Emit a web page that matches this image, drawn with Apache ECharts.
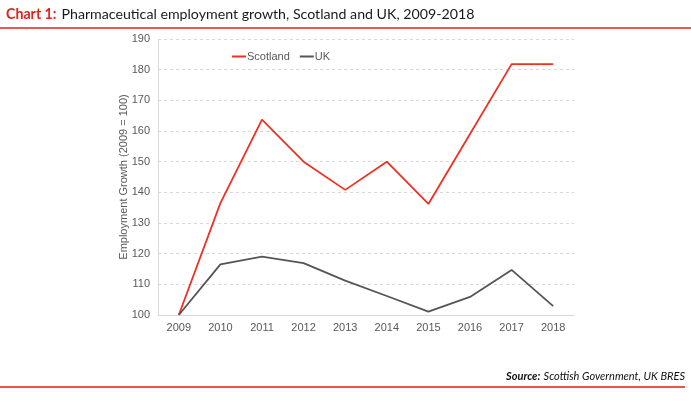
<!DOCTYPE html>
<html>
<head>
<meta charset="utf-8">
<script src="https://cdn.jsdelivr.net/npm/echarts@6/dist/echarts.min.js"></script>
<style>html,body{margin:0;padding:0;background:#fff;}#c{width:691px;height:402px;}</style>
</head>
<body>
<div id="c"></div>
<script>
var years = ['2009','2010','2011','2012','2013','2014','2015','2016','2017','2018'];
var scotland = [100, 136.5, 163.7, 150, 140.8, 150, 136.2, 159, 181.8, 181.8];
var uk = [100, 116.5, 119, 116.9, 111.2, 106.2, 101.1, 105.9, 114.7, 102.9];
var yTicks = {min: 100, max: 190, interval: 10};

var chart = echarts.init(document.getElementById('c'));
chart.setOption({
  animation: false,
  textStyle: {fontFamily: 'Liberation Sans, Arial, sans-serif'},
  title: {
    left: 1, top: 0,
    text: '{a|Chart 1:} {b|Pharmaceutical employment growth, Scotland and UK, 2009-2018}',
    textStyle: {
      fontWeight: 'normal',
      rich: {
        a: {fontFamily: 'Lato', fontSize: 14.2, fontWeight: 'bold', color: '#e2231a'},
        b: {fontFamily: 'Lato', fontSize: 14.2, fontWeight: 'normal', color: '#1a1a1a'}
      }
    }
  },
  graphic: [
    {type: 'line', shape: {x1: 0, y1: 28, x2: 691, y2: 28}, style: {stroke: '#e2231a', lineWidth: 1.5}},
    {type: 'line', shape: {x1: 0, y1: 387, x2: 685, y2: 387}, style: {stroke: '#e8564d', lineWidth: 2}},
    {type: 'text', right: 6, top: 370, style: {
      text: '{a|Source:} {b|Scottish Government, UK BRES}',
      rich: {
        a: {fontFamily: 'Lato', fontSize: 11, fontWeight: 'bold', fontStyle: 'italic', fill: '#111'},
        b: {fontFamily: 'Lato', fontSize: 11, fontStyle: 'italic', fill: '#111'}
      }
    }}
  ],
  legend: {
    left: 227, top: 46,
    itemWidth: 14, itemHeight: 2, itemGap: 10,
    icon: 'rect',
    textStyle: {fontSize: 11, color: '#595959', padding: [0, 0, 0, -4]},
    data: ['Scotland', 'UK']
  },
  grid: {left: 158, right: 117, top: 39, bottom: 87},
  xAxis: {
    type: 'category', data: years, boundaryGap: true,
    axisLine: {lineStyle: {color: '#d9d9d9', width: 1}},
    axisTick: {show: false},
    axisLabel: {color: '#595959', fontSize: 11, margin: 7}
  },
  yAxis: {
    type: 'value', min: yTicks.min, max: yTicks.max, interval: yTicks.interval,
    name: 'Employment Growth (2009 = 100)', nameLocation: 'middle', nameGap: 29,
    nameMoveOverlap: false,
    nameTextStyle: {color: '#595959', fontSize: 11},
    axisLine: {show: true, lineStyle: {color: '#d9d9d9', width: 1}},
    axisTick: {show: false},
    axisLabel: {color: '#595959', fontSize: 11, margin: 8},
    splitLine: {lineStyle: {color: '#d9d9d9', type: [3, 3], width: 1}}
  },
  series: [
    {name: 'Scotland', type: 'line', data: scotland, symbol: 'none', lineStyle: {color: '#ee3124', width: 1.8}, itemStyle: {color: '#ee3124'}},
    {name: 'UK', type: 'line', data: uk, symbol: 'none', lineStyle: {color: '#555555', width: 1.8}, itemStyle: {color: '#555555'}}
  ]
});
</script>
</body>
</html>
